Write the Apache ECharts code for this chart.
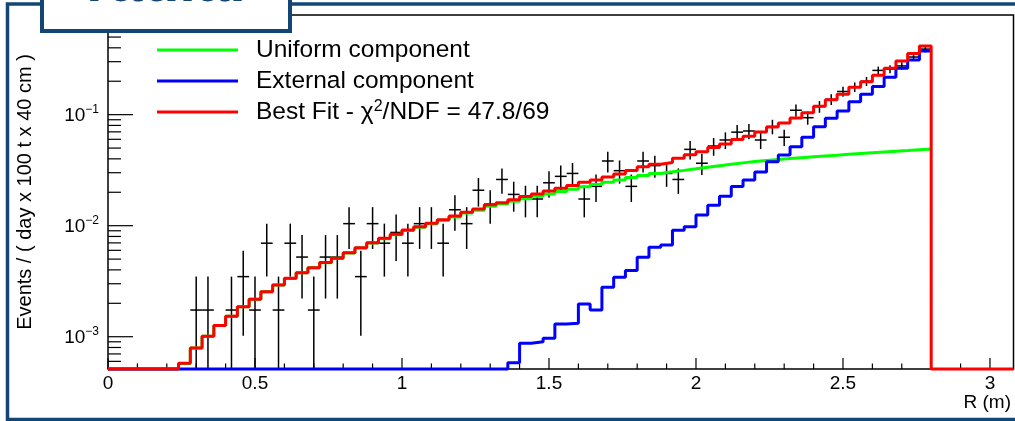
<!DOCTYPE html>
<html>
<head>
<meta charset="utf-8">
<script src="https://cdn.jsdelivr.net/npm/echarts@6/dist/echarts.min.js"></script>
<style>
  html, body { margin: 0; padding: 0; background: #fff; }
  #main { width: 1015px; height: 421px; }
</style>
</head>
<body>
<div id="main"></div>
<script>
// histogram binning (R in m)
var binWidth = 0.04;
var xMax = 3.08;
var yMin = 5.12e-4, yMax = 0.79;
var xTickLabels = ['0', '0.5', '1', '1.5', '2', '2.5', '3'];

// data: events per bin, one count = countScale in events / ( day x 100 t x 40 cm )
var countScale = 1.739e-3;
var counts = [
  0, 0, 0, 0, 0, 0, 0, 1, 1, 0,
  1, 2, 1, 4, 1, 4, 3, 1, 3, 3,
  6, 2, 6, 4, 5, 4, 6, 6, 4, 8,
  6, 12, 9, 15, 11, 10, 10, 14, 16, 17,
  10, 13, 22, 18, 13, 22, 20, 17, 15, 28,
  21, 30, 34, 40, 41, 34, 45, 36, 63, 54,
  68, 79, 93, 102, 115, 144, 148, 158, 190, 224
];

// fit components (0 = below the axis range)
var uniform = [
  0, 0, 0, 0, 0, 0, 5.75e-4, 7.9e-4, 1.01e-3, 1.26e-3,
  1.53e-3, 1.86e-3, 2.17e-3, 2.54e-3, 2.92e-3, 3.35e-3, 3.76e-3, 4.18e-3, 4.64e-3, 5.08e-3,
  5.69e-3, 6.31e-3, 6.99e-3, 7.64e-3, 8.30e-3, 9.06e-3, 9.70e-3, 1.04e-2, 1.12e-2, 1.20e-2,
  1.30e-2, 1.38e-2, 1.50e-2, 1.57e-2, 1.66e-2, 1.75e-2, 1.84e-2, 1.93e-2, 2.03e-2, 2.13e-2,
  2.24e-2, 2.35e-2, 2.46e-2, 2.58e-2, 2.71e-2, 2.83e-2, 2.95e-2, 3.06e-2, 3.15e-2, 3.25e-2,
  3.36e-2, 3.47e-2, 3.58e-2, 3.68e-2, 3.78e-2, 3.86e-2, 3.94e-2, 4.02e-2, 4.10e-2, 4.18e-2,
  4.25e-2, 4.32e-2, 4.40e-2, 4.47e-2, 4.54e-2, 4.61e-2, 4.68e-2, 4.75e-2, 4.83e-2, 4.91e-2
];
var external = [
  0, 0, 0, 0, 0, 0, 0, 0, 0, 0,
  0, 0, 0, 0, 0, 0, 0, 0, 0, 0,
  0, 0, 0, 0, 0, 0, 0, 0, 0, 0,
  0, 0, 0, 0, 5.83e-4, 8.72e-4, 9.0e-4, 9.7e-4, 1.30e-3, 1.32e-3,
  1.97e-3, 1.74e-3, 2.79e-3, 3.43e-3, 3.94e-3, 5.19e-3, 6.4e-3, 6.7e-3, 9.1e-3, 9.8e-3,
  1.25e-2, 1.53e-2, 1.84e-2, 2.25e-2, 2.58e-2, 3.05e-2, 3.77e-2, 4.33e-2, 5.15e-2, 6.25e-2,
  7.8e-2, 9.28e-2, 0.108, 0.131, 0.153, 0.179, 0.217, 0.262, 0.311, 0.375
];
var bestFit = [
  0, 0, 0, 0, 0, 0, 5.76e-4, 7.9e-4, 1.01e-3, 1.26e-3,
  1.53e-3, 1.86e-3, 2.17e-3, 2.54e-3, 2.92e-3, 3.36e-3, 3.77e-3, 4.19e-3, 4.65e-3, 5.10e-3,
  5.71e-3, 6.34e-3, 7.03e-3, 7.69e-3, 8.36e-3, 9.14e-3, 9.79e-3, 1.05e-2, 1.13e-2, 1.22e-2,
  1.32e-2, 1.41e-2, 1.54e-2, 1.61e-2, 1.71e-2, 1.83e-2, 1.93e-2, 2.05e-2, 2.17e-2, 2.30e-2,
  2.46e-2, 2.58e-2, 2.74e-2, 2.92e-2, 3.14e-2, 3.40e-2, 3.57e-2, 3.70e-2, 4.05e-2, 4.35e-2,
  4.63e-2, 5.05e-2, 5.44e-2, 5.97e-2, 6.40e-2, 6.97e-2, 7.75e-2, 8.40e-2, 9.35e-2, 0.104,
  0.119, 0.136, 0.153, 0.177, 0.198, 0.226, 0.262, 0.305, 0.355, 0.415,
  0, 0, 0, 0, 0, 0, 0
];
var chi2 = '47.8', ndf = '69';

var FONT = '"Liberation Sans", Arial, Helvetica, sans-serif';
var navy = '#134675';

// step points for a histogram, clamped to the bottom of the frame like ROOT
function stepData(vals) {
  var d = [];
  for (var i = 0; i < vals.length; i++) {
    d.push([i * binWidth, Math.max(vals[i], yMin)]);
  }
  d.push([vals.length * binWidth, Math.max(vals[vals.length - 1], yMin)]);
  return d;
}

var points = [];
counts.forEach(function (n, i) {
  if (n > 0) points.push([(i + 0.5) * binWidth, n * countScale, Math.sqrt(n) * countScale]);
});

function drawTicks(params, api) {
  var kids = [];
  var st = { stroke: '#000', lineWidth: 1.2 };
  function seg(p, dx, dy) {
    kids.push({ type: 'line', shape: { x1: p[0], y1: p[1], x2: p[0] + dx, y2: p[1] + dy }, style: st });
  }
  for (var k = 0; k <= 30; k++) {
    var x = k / 10;
    seg(api.coord([x, yMin]), 0, k % 5 === 0 ? -11 : -5.5);
  }
  for (var e = -4; e <= 0; e++) {
    for (var m = 1; m <= 9; m++) {
      var v = m * Math.pow(10, e);
      if (v < yMin || v > yMax) continue;
      seg(api.coord([0, v]), m === 1 ? 25 : 13, 0);
    }
  }
  return { type: 'group', children: kids };
}

function drawPoint(params, api) {
  var x = api.value(0), v = api.value(1), err = api.value(2);
  var l = api.coord([x - binWidth / 2, v]);
  var r = api.coord([x + binWidth / 2, v]);
  var t = api.coord([x, v + err]);
  var b = api.coord([x, Math.max(v - err, yMin)]);
  var st = { stroke: '#000', lineWidth: 1.5 };
  return {
    type: 'group',
    children: [
      { type: 'line', shape: { x1: l[0], y1: l[1], x2: r[0], y2: r[1] }, style: st },
      { type: 'line', shape: { x1: t[0], y1: t[1], x2: b[0], y2: b[1] }, style: st }
    ]
  };
}

function stepSeries(name, vals, color, z) {
  return {
    name: name,
    type: 'line',
    step: 'end',
    data: stepData(vals),
    showSymbol: false,
    symbol: 'none',
    clip: false,
    z: z,
    itemStyle: { color: color },
    lineStyle: { color: color, width: 3 }
  };
}

var myChart = echarts.init(document.getElementById('main'));
myChart.setOption({
  animation: false,
  backgroundColor: '#fff',
  textStyle: { fontFamily: FONT },
  grid: { left: 108, right: 1.5, top: 15, bottom: 52, show: true, borderColor: '#000', borderWidth: 1.5 },
  legend: {
    data: ['Uniform component', 'External component', 'Best Fit'],
    orient: 'vertical',
    left: 157,
    top: 37,
    padding: 0,
    itemGap: 5,
    itemWidth: 81,
    itemHeight: 3,
    icon: 'rect',
    selectedMode: false,
    formatter: function (name) {
      if (name === 'Best Fit') return 'Best Fit - \u03c7{s|2}/NDF = ' + chi2 + '/' + ndf;
      return name;
    },
    textStyle: {
      fontFamily: FONT, fontSize: 24.5, color: '#000', lineHeight: 26, padding: [0, 0, 0, 13],
      rich: { s: { fontFamily: FONT, fontSize: 16, lineHeight: 16, verticalAlign: 'top', color: '#000' } }
    }
  },
  xAxis: {
    type: 'value',
    min: 0,
    max: xMax,
    interval: 0.5,
    axisLine: { show: false },
    axisTick: { show: false },
    splitLine: { show: false },
    axisLabel: {
      showMaxLabel: false,
      margin: 5,
      color: '#000',
      fontFamily: FONT,
      fontSize: 19,
      formatter: function (v) {
        var i = Math.round(v / 0.5);
        return Math.abs(v - i * 0.5) < 1e-9 && i < xTickLabels.length ? xTickLabels[i] : '';
      }
    }
  },
  yAxis: {
    type: 'log',
    logBase: 10,
    min: yMin,
    max: yMax,
    axisLine: { show: false },
    axisTick: { show: false },
    splitLine: { show: false },
    name: 'Events / ( day x 100 t x 40 cm )',
    nameLocation: 'middle',
    nameRotate: 90,
    nameGap: 73,
    nameTextStyle: { fontFamily: FONT, fontSize: 20, color: '#000' },
    axisLabel: {
      margin: 9,
      showMinLabel: false,
      showMaxLabel: false,
      formatter: function (v) {
        var e = Math.round(Math.log10(v));
        if (Math.abs(Math.log10(v) - e) > 1e-6) return '';
        return '{b|10}{s|\u2212' + (-e) + '}';
      },
      rich: {
        b: { fontFamily: FONT, fontSize: 19, lineHeight: 22, verticalAlign: 'bottom', color: '#000' },
        s: { fontFamily: FONT, fontSize: 12, lineHeight: 12, verticalAlign: 'top', color: '#000' }
      }
    }
  },
  graphic: [
    { type: 'rect', z: 100, silent: true,
      shape: { x: 7.5, y: 4, width: 1030, height: 415.5 },
      style: { fill: 'none', stroke: navy, lineWidth: 3.5 } },
    { type: 'rect', z: 101, silent: true,
      shape: { x: 42, y: -20, width: 248, height: 51 },
      style: { fill: '#fff', stroke: navy, lineWidth: 4 } },
    { type: 'text', z: 102, silent: true, x: 166, y: -16,
      style: { text: 'radial', fill: navy, fontFamily: FONT, fontWeight: 'bold', fontSize: 60, align: 'center', verticalAlign: 'middle' } },
    { type: 'text', z: 102, silent: true, x: 1011, y: 403,
      style: { text: 'R (m)', fill: '#000', fontFamily: FONT, fontSize: 19, align: 'right', verticalAlign: 'middle' } }
  ],
  series: [
    { type: 'custom', name: 'ticks', silent: true, z: 1, renderItem: drawTicks, data: [[1.5, 0.01]] },
    { type: 'custom', name: 'Data', silent: true, z: 2, renderItem: drawPoint, data: points, encode: { x: 0, y: 1 } },
    stepSeries('Uniform component', uniform, '#00ff00', 3),
    stepSeries('External component', external, '#0000ff', 4),
    stepSeries('Best Fit', bestFit, '#ff0000', 5)
  ]
});
</script>
</body>
</html>
